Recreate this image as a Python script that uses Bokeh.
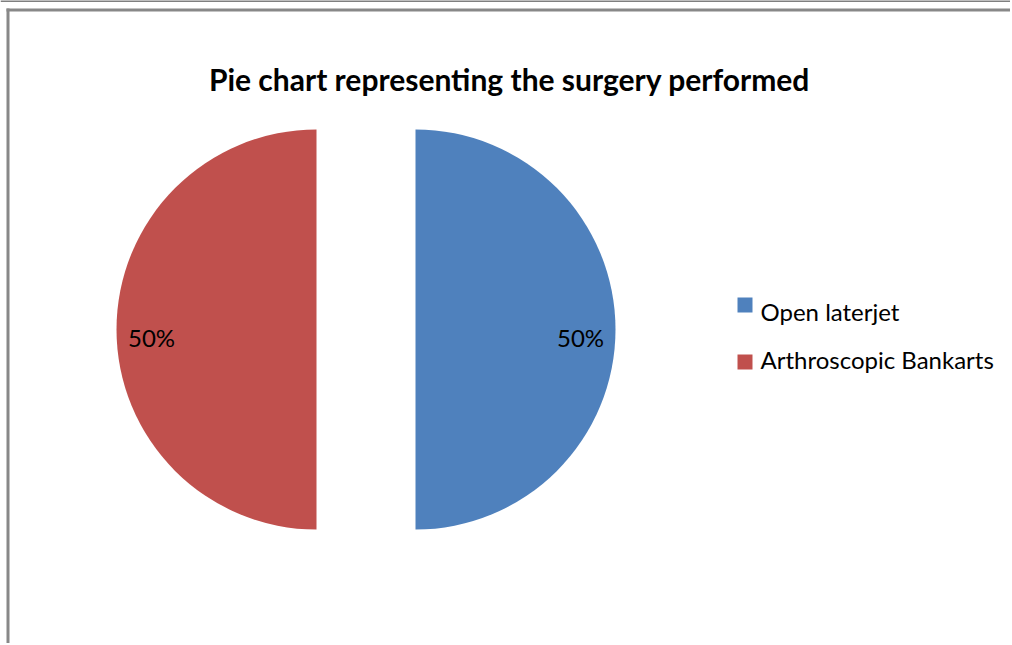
import math
from bokeh.plotting import figure
from bokeh.models import Range1d, ColumnDataSource
from bokeh.core.properties import value
from bokeh.embed import file_html
from bokeh.resources import INLINE

# ---- data ----
categories = ["Open laterjet", "Arthroscopic Bankarts"]
values = [50, 50]
colors = ["#4F81BD", "#C0504D"]
title_text = "Pie chart representing the surgery performed"

# ---- layout (pixel-like data space, y = H - page_y) ----
W, H = 1010, 643
p = figure(width=W, height=H, output_backend="svg", toolbar_location=None,
           x_range=Range1d(0, W), y_range=Range1d(0, H), min_border=0)
p.axis.visible = False
p.grid.visible = False
p.outline_line_color = None
p.background_fill_color = "white"

cx, cy, R, explode = 365.5, H - 329.0, 200.0, 49.5
total = sum(values)
start = math.pi / 2
xs, ys, sa, ea, lx, ly, lbl = [], [], [], [], [], [], []
for v in values:
    sweep = 2 * math.pi * v / total
    end = start - sweep
    mid = (start + end) / 2
    ox = cx + explode * math.cos(mid)
    oy = cy + explode * math.sin(mid)
    xs.append(ox); ys.append(oy)
    sa.append(end); ea.append(start)
    lx.append(ox + 0.825 * R * math.cos(mid))
    ly.append(oy + 0.825 * R * math.sin(mid) - 8)
    lbl.append(f"{round(100 * v / total)}%")
    start = end

src = ColumnDataSource(dict(x=xs, y=ys, sa=sa, ea=ea, color=colors, lx=lx, ly=ly, lbl=lbl))
p.wedge(x="x", y="y", radius=R, start_angle="sa", end_angle="ea",
        fill_color="color", line_color=None, source=src)
p.text(x="lx", y="ly", text="lbl", source=src, text_align="center",
       text_baseline="middle", text_font=value("Lato"), text_font_size="24px",
       text_color="#000000")

# title
p.text(x=[509], y=[H - 78], text=[title_text], text_align="center", text_baseline="middle",
       text_font=value("Lato"), text_font_size="30px", text_font_style="bold",
       text_color="#000000")

# legend
leg_py = [311, 359]
p.rect(x=[744.5] * 2, y=[H - 304.5, H - 361.5], width=15, height=15,
       fill_color=colors, line_color=None)
p.text(x=[760] * 2, y=[H - py for py in leg_py], text=categories, text_align="left",
       text_baseline="middle", text_font=value("Lato"), text_font_size="24px",
       text_color="#000000")

# border lines
p.line(x=[0, W], y=[H - 0.5, H - 0.5], line_color="#000000", line_width=1)
p.line(x=[6, W], y=[H - 9.5, H - 9.5], line_color="#888888", line_width=3)
p.line(x=[7.5, 7.5], y=[0, H - 8], line_color="#888888", line_width=3)

open("out.html", "w").write(file_html(p, INLINE))
